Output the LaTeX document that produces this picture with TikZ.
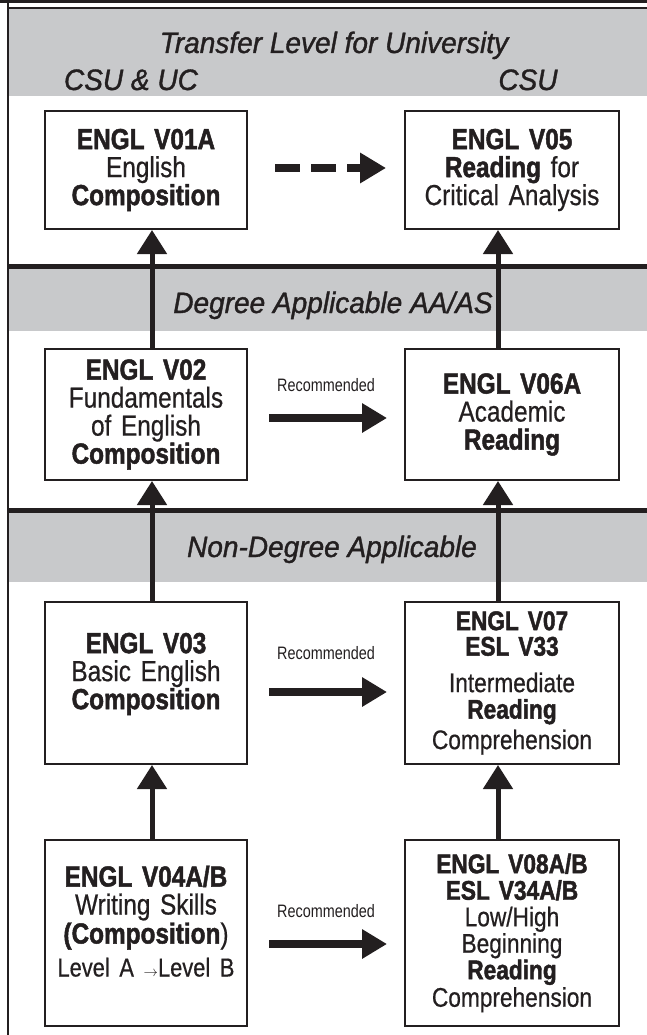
\documentclass[tikz,border=0pt]{standalone}
\usepackage{fontspec}
\setmainfont{Liberation Sans}[FakeStretch=0.84, WordSpace=0.6, UprightFeatures={FakeBold=0.6}, BoldFeatures={FakeBold=1.6}]
\newfontfamily\bandfont{Liberation Sans}[FakeStretch=0.95, ItalicFeatures={FakeBold=1.2}]
\newfontfamily\narrowfont{Liberation Sans}[FakeStretch=0.8]
\usetikzlibrary{positioning,arrows.meta}
\definecolor{bandgray}{HTML}{C8C9CB}
\definecolor{inkblack}{HTML}{231F20}

\begin{document}
\begin{tikzpicture}[x=1pt, y=1pt,
  course/.style={draw=inkblack, line width=2pt, align=center, inner sep=0pt, text=inkblack, font=\fontsize{29}{28}\selectfont},
  leftcol/.style={course, minimum width=202pt, text width=196pt},
  rightcol/.style={course, minimum width=214pt, text width=208pt},
  tightcol/.style={rightcol, font=\fontsize{27}{26.5}\selectfont},
  band/.style={text=inkblack, inner sep=0pt, font=\fontsize{29.5}{32}\bandfont\itshape},
  uparrow/.style={draw=inkblack, line width=5pt, -{Triangle[width=29pt,length=24pt]}},
  recarrow/.style={draw=inkblack, line width=8pt, -{Triangle[width=28pt,length=25pt]}, shorten <=21pt, shorten >=17pt},
  dasharrow/.style={draw=inkblack, line width=8pt, dash pattern=on 25pt off 11pt, -{Triangle[width=29pt,length=26pt]}, shorten <=27pt, shorten >=18pt},
  rectext/.style={text=inkblack, inner sep=0pt, font=\fontsize{18}{18}\narrowfont}]

	\useasboundingbox (0,0) rectangle (647,-1035);

	% grey level bands and rules
	\fill[bandgray] (9,-9.3) rectangle (647,-96);
	\fill[bandgray] (9,-269) rectangle (647,-331);
	\fill[bandgray] (9,-513) rectangle (647,-582);
	\draw[inkblack, line width=2.7pt] (0,-1.35) -- (647,-1.35);
	\draw[inkblack, line width=2pt] (8,-8.3) -- (647,-8.3);
	\draw[inkblack, line width=5pt] (8,-266.5) -- (647,-266.5);
	\draw[inkblack, line width=5pt] (8,-510.5) -- (647,-510.5);
	\draw[inkblack, line width=2pt] (8,0) -- (8,-1035);

	\node[band, anchor=base] (tlevel) at (334,-53) {Transfer Level for University};
	\node[band, anchor=base] (csuuc) at (131,-90) {CSU \& UC};
	\node[band, anchor=base] (csu) at (528,-90) {CSU};
	\node[band, anchor=base] (dlevel) at (333,-313) {Degree Applicable AA/AS};
	\node[band, anchor=base] (nlevel) at (332,-557) {Non-Degree Applicable};

	% courses
	\node[leftcol, minimum height=118pt, anchor=north west] (v01a) at (44,-110) {\textbf{ENGL V01A}\\English\\\textbf{Composition}};
	\node[rightcol, minimum height=118pt, right=156pt of v01a] (v05) {\textbf{ENGL V05}\\\textbf{Reading} for\\Critical Analysis};

	\node[leftcol, minimum height=131pt, below=118pt of v01a] (v02) {\textbf{ENGL V02}\\Fundamentals\\of English\\\textbf{Composition}};
	\node[rightcol, minimum height=131pt, right=156pt of v02] (v06a) {\textbf{ENGL V06A}\\Academic\\\textbf{Reading}};

	\node[leftcol, minimum height=162pt, below=120pt of v02] (v03) {\textbf{ENGL V03}\\Basic English\\\textbf{Composition}\\[-4pt]\mbox{}};
	\node[tightcol, minimum height=162pt, right=156pt of v03] (v07) {\textbf{ENGL V07}\\[-1pt]\textbf{ESL V33}\\[10pt]Intermediate\\\textbf{Reading}\\[4pt]Comprehension};

	\node[leftcol, minimum height=186pt, below=74pt of v03] (v04) {\textbf{ENGL V04A/B}\\Writing Skills\\[1pt]\textbf{(Composition})\\[5pt]{\fontsize{26}{26}\selectfont Level A {\fontsize{14}{14}\selectfont$\rightarrow$}Level B}\\[-4pt]\mbox{}};
	\node[tightcol, minimum height=186pt, right=156pt of v04] (v08) {\textbf{ENGL V08A/B}\\\textbf{ESL V34A/B}\\Low/High\\Beginning\\\textbf{Reading}\\[1pt]Comprehension};

	% prerequisites
	\coordinate (lx) at (152,0);
	\coordinate (rx) at (498,0);
	\draw[uparrow] (v02.north -| lx) -- (v01a.south -| lx);
	\draw[uparrow] (v03.north -| lx) -- (v02.south -| lx);
	\draw[uparrow] (v04.north -| lx) -- (v03.south -| lx);
	\draw[uparrow] (v06a.north -| rx) -- (v05.south -| rx);
	\draw[uparrow] (v07.north -| rx) -- (v06a.south -| rx);
	\draw[uparrow] (v08.north -| rx) -- (v07.south -| rx);

	\draw[dasharrow] ([yshift=2pt]v01a.east) -- ([yshift=2pt]v05.west);
	\draw[recarrow] ([yshift=-3.5pt]v02.east) -- node[rectext, above=22pt] (rec1) {Recommended} ([yshift=-3.5pt]v06a.west);
	\draw[recarrow] ([yshift=-9pt]v03.east) -- node[rectext, above=28pt] (rec2) {Recommended} ([yshift=-9pt]v07.west);
	\draw[recarrow] ([yshift=-11pt]v04.east) -- node[rectext, above=22pt] (rec3) {Recommended} ([yshift=-11pt]v08.west);

\end{tikzpicture}
\end{document}
